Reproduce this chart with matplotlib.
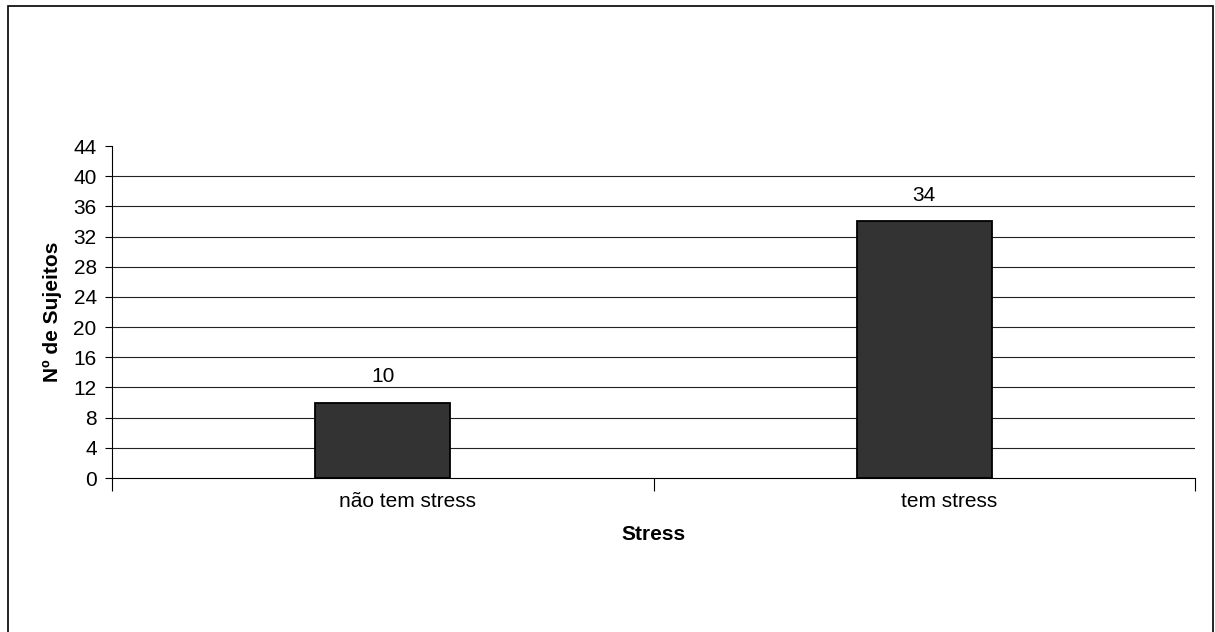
import matplotlib
matplotlib.use("Agg")
import matplotlib.pyplot as plt
import matplotlib.transforms as mtransforms
from matplotlib.patches import Rectangle
import numpy as np

plt.rcParams['font.family'] = ['Liberation Sans', 'DejaVu Sans']

categories = ["não tem stress", "tem stress"]
values = [10, 34]
y_ticks = list(range(0, 45, 4))
x_label = "Stress"
y_label = "Nº de Sujeitos"

W, H = 1215, 632
fig = plt.figure(figsize=(W / 100, H / 100), dpi=100)
fig.patch.set_facecolor("white")

# outer chart frame
fig.patches.append(Rectangle((8 / W, -0.05), (1213 - 8) / W, 1.05 - 6 / H,
                             transform=fig.transFigure, fill=False,
                             edgecolor="black", linewidth=1.2, zorder=0))

ax = fig.add_axes([112 / W, 1 - 478 / H, (1195 - 112) / W, (478 - 146) / H])
x = np.arange(len(categories))
bars = ax.bar(x, values, width=0.25, color="#333333", edgecolor="black",
              linewidth=1.3, zorder=3)

ax.set_xlim(-0.5, len(categories) - 0.5)
ax.set_ylim(0, 44)
ax.set_yticks(y_ticks)
ax.set_yticklabels([str(t) for t in y_ticks], fontsize=15)
ax.tick_params(axis="y", direction="out", length=5, width=0.8, pad=6, color="black")

# category labels, boundary ticks below the axis
ax.set_xticks(x)
ax.set_xticklabels(categories, fontsize=15)
ax.tick_params(axis="x", which="major", length=0, pad=10)
shift = mtransforms.ScaledTranslation(25 / 100, 0, fig.dpi_scale_trans)
for lbl in ax.get_xticklabels():
    lbl.set_transform(lbl.get_transform() + shift)
ax.set_xticks(np.arange(-0.5, len(categories), 1.0), minor=True)
ax.tick_params(axis="x", which="minor", direction="out", length=9, width=0.8, color="black")

ax.yaxis.grid(True, color="#222222", linewidth=0.8, zorder=1)
ax.set_axisbelow(True)
ax.get_ygridlines()[-1].set_visible(False)
ax.get_ygridlines()[0].set_visible(False)

for side in ("top", "right"):
    ax.spines[side].set_visible(False)
ax.spines["left"].set_linewidth(0.8)
ax.spines["bottom"].set_linewidth(0.8)
ax.spines["left"].set_bounds(0, 44)

for xi, v in zip(x, values):
    ax.annotate(str(v), (xi, v), xytext=(0, 14.5), textcoords="offset points",
                ha="center", va="baseline", fontsize=15)

ax.set_xlabel(x_label, fontsize=15, fontweight="bold", labelpad=10)
ax.set_ylabel(y_label, fontsize=15, fontweight="bold", labelpad=8)

fig.savefig("out.png", dpi=100)
